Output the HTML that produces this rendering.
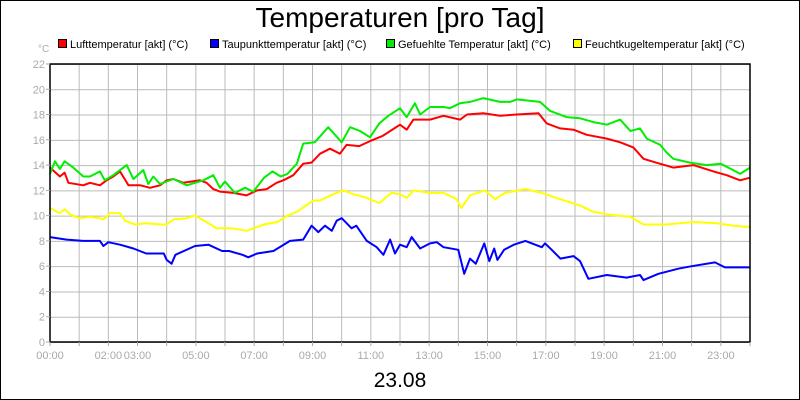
<!DOCTYPE html>
<html><head><meta charset="utf-8"><style>
body{margin:0;background:#fff;}
svg{display:block;font-family:"Liberation Sans",sans-serif;}
</style></head><body>
<svg id="chart" width="800" height="400">
<rect x="0.5" y="0.5" width="799" height="399" fill="#fff" stroke="#000"/>
<text x="400" y="27" text-anchor="middle" font-size="28">Temperaturen [pro Tag]</text>
<g id="legend" font-size="11"></g>
<text x="38" y="52" font-size="10" fill="#aaa">°C</text>
<g id="grid"></g>
<g id="series"></g>
<g id="axes"></g>
<text x="400" y="387" text-anchor="middle" font-size="21">23.08</text>
</svg>
<script>
const seriesNames=["Lufttemperatur [akt] (°C)","Taupunkttemperatur [akt] (°C)","Gefuehlte Temperatur [akt] (°C)","Feuchtkugeltemperatur [akt] (°C)"];
const seriesColors=["#ff0000","#0000ff","#00ee00","#ffff00"];
const yTicks=[0,2,4,6,8,10,12,14,16,18,20,22];
const xTickLabels=["00:00","","02:00","03:00","","05:00","","07:00","","09:00","","11:00","","13:00","","15:00","","17:00","","19:00","","21:00","","23:00",""];
const redT=[0,0.34,0.5,0.63,1.14,1.37,1.71,1.94,2.17,2.4,2.69,3.1,3.43,3.77,4.0,4.23,4.57,5.14,5.37,5.6,5.83,6.28,6.74,7.1,7.43,7.77,8.0,8.34,8.68,8.97,9.26,9.6,9.94,10.17,10.6,10.97,11.4,12,12.23,12.46,13.03,13.49,14.06,14.3,14.86,15.43,16,16.75,17.03,17.49,17.95,18.4,19.09,19.55,20,20.35,20.92,21.37,22.06,22.75,23.2,23.66,24];
const redV=[13.8,13.1,13.4,12.6,12.4,12.6,12.4,12.8,13.1,13.5,12.4,12.4,12.2,12.4,12.8,12.9,12.6,12.8,12.6,12.1,11.9,11.8,11.6,12.0,12.1,12.6,12.8,13.2,14.1,14.2,14.9,15.3,14.9,15.6,15.5,15.9,16.3,17.2,16.8,17.6,17.6,17.9,17.6,18.0,18.1,17.9,18.0,18.1,17.3,16.9,16.8,16.4,16.1,15.8,15.4,14.5,14.1,13.8,14.0,13.5,13.2,12.8,13.0];
const blueT=[0,0.57,1.14,1.71,1.83,2.0,2.4,2.86,3.3,3.9,4.0,4.17,4.3,4.97,5.43,5.9,6.14,6.6,6.8,7.1,7.66,8.23,8.68,8.97,9.2,9.43,9.66,9.83,10.0,10.34,10.5,10.86,11.2,11.43,11.66,11.83,12,12.23,12.4,12.69,13.03,13.26,13.49,14.0,14.2,14.4,14.6,14.89,15.06,15.23,15.34,15.57,15.9,16.3,16.86,16.97,17.2,17.5,17.95,18.17,18.46,19.09,19.77,20.23,20.35,20.86,21.54,22,22.8,23.14,24];
const blueV=[8.3,8.1,8.0,8.0,7.6,7.9,7.7,7.4,7.0,7.0,6.5,6.2,6.9,7.6,7.7,7.2,7.2,6.9,6.7,7.0,7.2,8.0,8.1,9.2,8.7,9.2,8.8,9.6,9.8,9.0,9.2,8.0,7.5,6.9,8.1,7.0,7.7,7.5,8.3,7.4,7.8,7.9,7.5,7.3,5.4,6.6,6.2,7.8,6.4,7.4,6.5,7.3,7.7,8.0,7.5,7.8,7.3,6.6,6.8,6.4,5.0,5.3,5.1,5.3,4.9,5.4,5.8,6.0,6.3,5.9,5.9];
const greenT=[0,0.17,0.34,0.5,0.8,1.14,1.37,1.71,1.88,2.17,2.63,2.86,3.2,3.37,3.54,3.77,4.23,4.69,5.26,5.6,5.83,6.0,6.34,6.69,6.97,7.34,7.63,7.91,8.14,8.46,8.68,9.08,9.54,10.0,10.29,10.63,10.97,11.29,11.6,12,12.23,12.51,12.69,13.03,13.49,13.71,14.06,14.4,14.86,15.43,15.77,16,16.8,17.14,17.71,18.17,18.63,19.09,19.55,19.9,20.23,20.46,20.92,21.14,21.37,21.94,22.51,23.0,23.34,23.66,24];
const greenV=[13.3,14.3,13.7,14.3,13.8,13.1,13.1,13.5,12.8,13.2,14.0,12.9,13.6,12.5,13.1,12.5,12.9,12.4,12.8,13.2,12.2,12.7,11.8,12.2,11.9,13.0,13.5,13.1,13.3,14.1,15.7,15.8,17.0,15.8,17.0,16.7,16.2,17.3,17.9,18.5,17.8,18.9,18.0,18.6,18.6,18.5,18.9,19.0,19.3,19.0,19.0,19.2,19.0,18.3,17.8,17.7,17.4,17.2,17.6,16.7,16.9,16.1,15.6,15.0,14.5,14.2,14.0,14.1,13.7,13.3,13.8];
const yellowT=[0,0.34,0.5,0.69,1.0,1.37,1.71,1.83,2.06,2.4,2.57,2.91,3.26,3.83,4.0,4.23,4.69,4.97,5.43,5.7,6.23,6.74,7.34,7.8,8.14,8.46,9.03,9.26,9.71,10.06,10.4,10.86,11.29,11.71,12,12.23,12.46,13.03,13.49,13.94,14.1,14.4,14.91,15.26,15.6,16.3,16.86,17.49,18.17,18.63,19.09,19.9,20.35,21.14,22.06,22.86,23.43,24];
const yellowV=[10.6,10.2,10.5,10.1,9.8,9.9,9.8,9.7,10.2,10.2,9.6,9.3,9.4,9.3,9.3,9.7,9.8,10.0,9.4,9.0,9.0,8.8,9.3,9.5,10.0,10.3,11.2,11.2,11.7,12.0,11.7,11.4,11.0,11.8,11.7,11.4,12.0,11.8,11.8,11.3,10.6,11.6,12.0,11.3,11.8,12.1,11.8,11.3,10.8,10.3,10.1,9.9,9.3,9.3,9.5,9.4,9.2,9.1];
const allT=[redT,blueT,greenT,yellowT];
const allV=[redV,blueV,greenV,yellowV];

const X0=50,X1=750,Y0=342,Y1=64,XMAX=24,YMAX=22;
const sx=h=>X0+(X1-X0)*h/XMAX;
const sy=v=>Y0-(Y0-Y1)*v/YMAX;
const NS="http://www.w3.org/2000/svg";
function mk(tag,attrs,parent){const e=document.createElementNS(NS,tag);for(const k in attrs)e.setAttribute(k,attrs[k]);parent.appendChild(e);return e;}

const grid=document.getElementById('grid');


mk('rect',{x:X0,y:Y1,width:X1-X0,height:Y0-Y1,fill:'#fff'},grid);
yTicks.forEach(v=>{
  const l=mk('line',{x1:X0,x2:X1,y1:sy(v)+0.5,y2:sy(v)+0.5,stroke:'#bbb','stroke-width':1},grid);
  
  
});
for(let h=1;h<XMAX;h++){
  const l=mk('line',{x1:sx(h),x2:sx(h),y1:Y1,y2:Y0,stroke:'#bbb','stroke-width':1},grid);
  
  
}

const ser=document.getElementById('series');
allT.forEach((ts,i)=>{
  const d=ts.map((t,j)=>(j?'L':'M')+sx(t).toFixed(1)+','+sy(allV[i][j]).toFixed(1)).join('');
  const p=mk('path',{d:d,fill:'none',stroke:seriesColors[i],'stroke-width':2,'stroke-linejoin':'round'},ser);
  
  
});

const ax=document.getElementById('axes');
mk('rect',{x:X0,y:Y1,width:X1-X0,height:Y0-Y1,fill:'none',stroke:'#000','stroke-width':1.5},ax);
yTicks.forEach(v=>{
  mk('line',{x1:X0-4,x2:X0,y1:sy(v),y2:sy(v),stroke:'#aaa'},ax);
  const t=mk('text',{x:X0-5,y:sy(v)+4,'text-anchor':'end','font-size':11,fill:'#aaa'},ax);
  t.textContent=v;
  
  
});
xTickLabels.forEach((lab,h)=>{
  mk('line',{x1:sx(h),x2:sx(h),y1:Y0,y2:Y0+4,stroke:'#aaa'},ax);
  if(lab){
    const t=mk('text',{x:sx(h)+(h===0?0:0),y:Y0+17,'text-anchor':'middle','font-size':11,fill:'#aaa'},ax);
    t.textContent=lab;
    
    
  }
});

const lg=document.getElementById('legend');
const lgX=[58,210,386,573];
seriesNames.forEach((n,i)=>{
  const g=mk('g',{},lg);
  
  
  mk('rect',{x:lgX[i]+0.5,y:39.5,width:8,height:8,fill:seriesColors[i],stroke:'#000'},g);
  const t=mk('text',{x:lgX[i]+12,y:48,'font-size':11},g);
  t.textContent=n;
});
</script>
</body></html>
